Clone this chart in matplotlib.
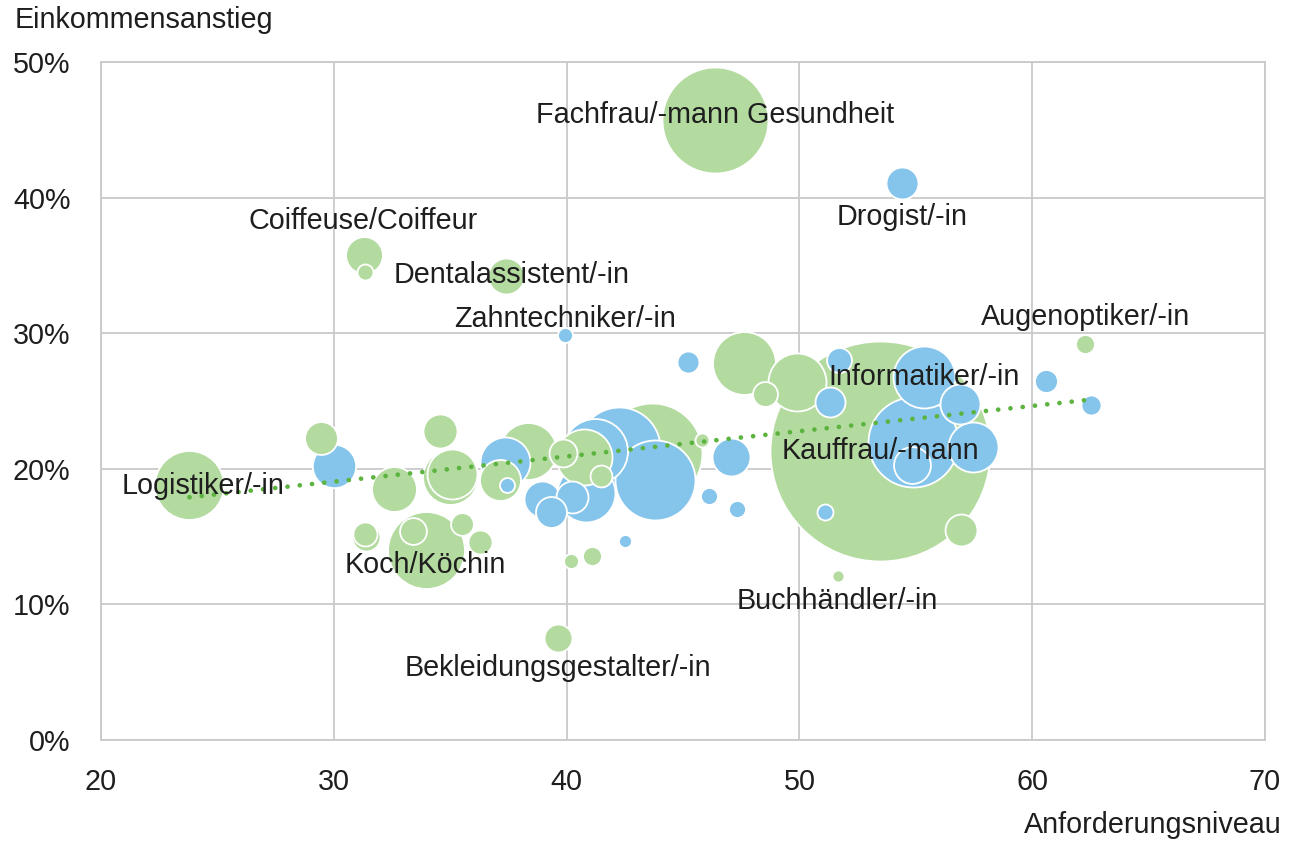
import matplotlib.pyplot as plt

# Anforderungsniveau, Einkommensanstieg (%), Anzahl Lernende (Blasengrösse)
gruen_x = [46.37, 31.28, 31.34, 37.4, 62.25, 23.76, 29.45, 32.6, 34.56, 34.97,
           35.08, 31.35, 31.4, 33.94, 33.4, 35.49, 36.28, 40.21, 41.11, 39.63,
           51.64, 38.36, 37.12, 39.85, 41.48, 40.75, 43.67, 45.82, 47.6, 48.54,
           49.9, 53.46, 56.94]
gruen_y = [45.7, 35.8, 34.5, 34.2, 29.2, 18.8, 22.3, 18.5, 22.8, 19.4,
           19.6, 15.2, 15.0, 14.0, 15.4, 15.9, 14.6, 13.2, 13.6, 7.5,
           12.1, 21.3, 19.2, 21.2, 19.5, 20.9, 21.2, 22.1, 27.8, 25.5,
           26.4, 21.3, 15.5]
gruen_n = [2810, 340, 64, 325, 90, 1190, 270, 505, 290, 755,
           625, 145, 195, 1480, 180, 130, 145, 56, 90, 195,
           36, 810, 420, 195, 120, 785, 2500, 49, 990, 155,
           840, 12100, 255]
gruen_name = ["Fachfrau/-mann Gesundheit", "Coiffeuse/Coiffeur", "", "Dentalassistent/-in",
              "Augenoptiker/-in", "Logistiker/-in", "", "", "", "",
              "", "", "", "Koch/Köchin", "", "", "", "", "", "Bekleidungsgestalter/-in",
              "Buchhändler/-in", "", "", "", "", "", "", "", "", "",
              "", "Kauffrau/-mann", ""]

blau_x = [54.41, 39.93, 60.61, 62.53, 29.99, 37.35, 37.46, 38.94, 39.35, 40.25,
          40.83, 41.2, 42.25, 43.8, 46.1, 42.49, 45.22, 47.06, 47.3, 51.72,
          51.31, 51.1, 55.35, 56.9, 54.88, 57.46, 54.82]
blau_y = [41.1, 29.9, 26.5, 24.7, 20.2, 20.5, 18.8, 17.8, 16.8, 17.9,
          18.2, 21.3, 21.5, 19.2, 18.0, 14.7, 27.9, 20.9, 17.0, 28.0,
          24.9, 16.8, 26.8, 24.8, 22.0, 21.6, 20.3]
blau_n = [256, 56, 132, 100, 470, 625, 56, 325, 240, 256,
          840, 1055, 1680, 1600, 72, 42, 121, 360, 72, 155,
          225, 64, 960, 400, 2025, 625, 340]
blau_name = ["Drogist/-in", "Zahntechniker/-in", "", "", "", "", "", "", "", "",
             "", "", "", "", "", "", "", "", "", "",
             "", "", "Informatiker/-in", "", "", "", ""]

trend_x = [23.8, 62.5]
trend_y = [17.9, 25.1]

# Beschriftungsversatz in Pixeln
label_offset = {
    "Fachfrau/-mann Gesundheit": (0, 5),
    "Drogist/-in": (0, -34),
    "Coiffeuse/Coiffeur": (0, 34),
    "Dentalassistent/-in": (6, 1),
    "Zahntechniker/-in": (0, 16),
    "Augenoptiker/-in": (1, 27),
    "Informatiker/-in": (0, 0),
    "Kauffrau/-mann": (0, 0),
    "Logistiker/-in": (15, -1),
    "Koch/Köchin": (0, -15),
    "Buchhändler/-in": (0, -25),
    "Bekleidungsgestalter/-in": (0, -30),
}

GRUEN = "#b3dba0"
BLAU = "#86c5eb"
TREND = "#5db33f"
TEXT = "#1e1e1e"
GRID = "#c9c9c9"
FS = 20.7

plt.rcParams["font.family"] = ["Liberation Sans", "DejaVu Sans"]

fig = plt.figure(figsize=(12.89, 8.42), dpi=100)
ax = fig.add_axes([101 / 1289, 1 - 740 / 842, 1164 / 1289, 678 / 842])

punkte = []
for x, y, n, name in zip(gruen_x, gruen_y, gruen_n, gruen_name):
    punkte.append((x, y, n, GRUEN, name))
for x, y, n, name in zip(blau_x, blau_y, blau_n, blau_name):
    punkte.append((x, y, n, BLAU, name))
punkte.sort(key=lambda p: -p[2])

# Radius in Pixeln = sqrt(n); s in pt^2
for x, y, n, farbe, name in punkte:
    ax.scatter(x, y, s=n * (2 * 0.72) ** 2, color=farbe, edgecolor="white",
               linewidth=1.3, zorder=3)

ax.plot(trend_x, trend_y, color=TREND, linewidth=3.4, linestyle=(0, (0.01, 2.6)),
        dash_capstyle="round", zorder=4)

for x, y, n, farbe, name in punkte:
    if name:
        dx, dy = label_offset[name]
        ax.annotate(name, (x, y), xytext=(dx, dy), textcoords="offset pixels",
                    ha="center", va="center", fontsize=FS, color=TEXT, zorder=5)

ax.set_xlim(20, 70)
ax.set_ylim(0, 50)
ax.set_xticks([20, 30, 40, 50, 60, 70])
ax.set_yticks([0, 10, 20, 30, 40, 50])
ax.set_yticklabels([f"{v}%" for v in [0, 10, 20, 30, 40, 50]])
ax.tick_params(length=0, labelsize=FS, labelcolor=TEXT)
ax.tick_params(axis="x", pad=20)
ax.tick_params(axis="y", pad=22)
ax.grid(True, color=GRID, linewidth=1.3, zorder=0)
ax.set_axisbelow(True)
for sp in ax.spines.values():
    sp.set_color(GRID)
    sp.set_linewidth(1.3)

fig.text(15 / 1289, 1 - 20 / 842, "Einkommensanstieg", ha="left", va="center",
         fontsize=FS, color=TEXT)
fig.text(1282 / 1289, 1 - 825 / 842, "Anforderungsniveau", ha="right", va="center",
         fontsize=FS, color=TEXT)

fig.savefig("out.png", dpi=100)
